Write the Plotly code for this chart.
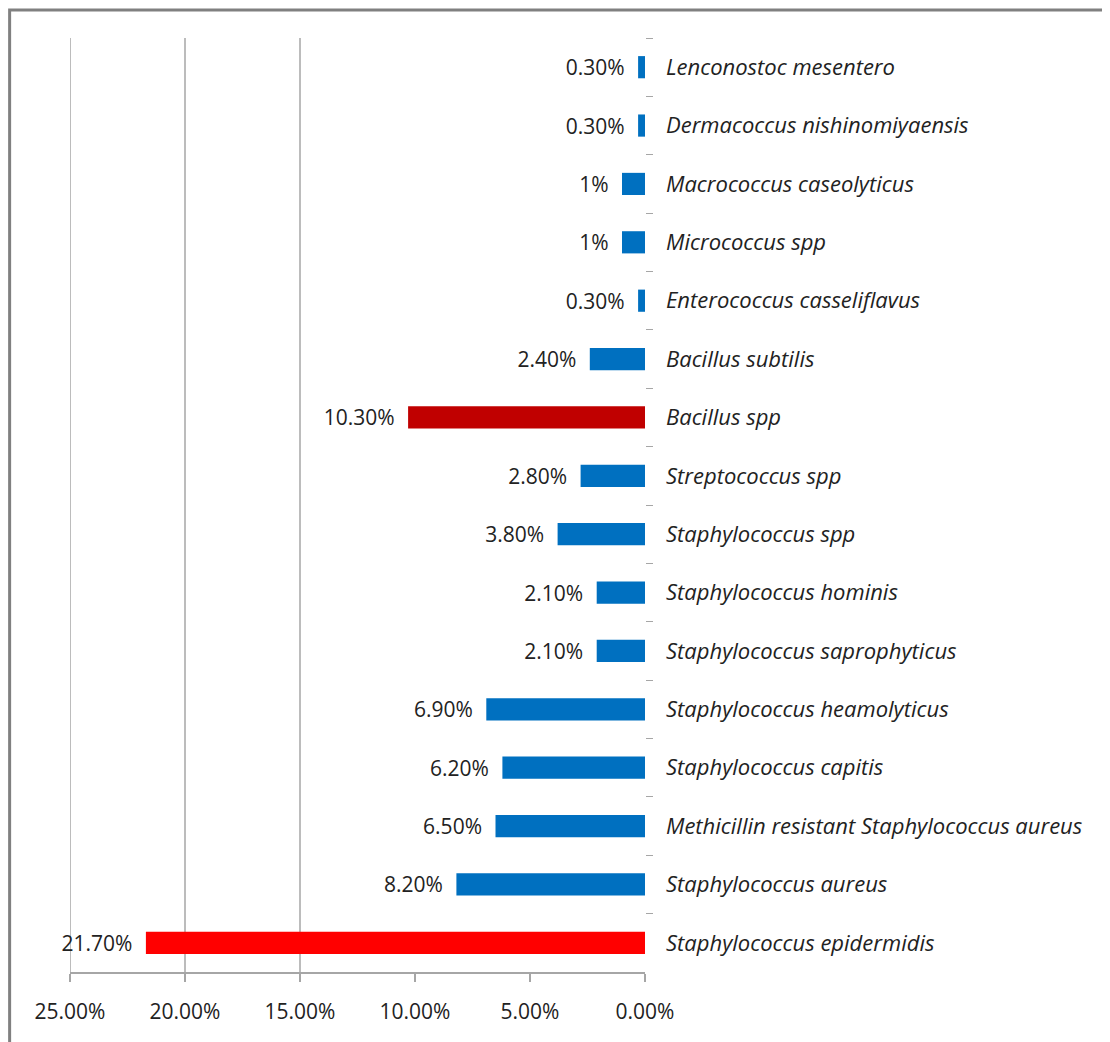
import plotly.graph_objects as go

# categories listed top to bottom, as in the original chart
organisms = [
    "Lenconostoc mesentero",
    "Dermacoccus nishinomiyaensis",
    "Macrococcus caseolyticus",
    "Micrococcus spp",
    "Enterococcus casseliflavus",
    "Bacillus subtilis",
    "Bacillus spp",
    "Streptococcus spp",
    "Staphylococcus spp",
    "Staphylococcus hominis",
    "Staphylococcus saprophyticus",
    "Staphylococcus heamolyticus",
    "Staphylococcus capitis",
    "Methicillin resistant Staphylococcus aureus",
    "Staphylococcus aureus",
    "Staphylococcus epidermidis",
]
percent = [0.3, 0.3, 1, 1, 0.3, 2.4, 10.3, 2.8, 3.8, 2.1, 2.1, 6.9, 6.2, 6.5, 8.2, 21.7]
value_labels = ["0.30%", "0.30%", "1%", "1%", "0.30%", "2.40%", "10.30%", "2.80%",
                "3.80%", "2.10%", "2.10%", "6.90%", "6.20%", "6.50%", "8.20%", "21.70%"]
x_ticks = [0, 5, 10, 15, 20, 25]
grid_at = [15, 20, 25]

highlight = {"Bacillus spp": "#C00000", "Staphylococcus epidermidis": "#FF0000"}
bar_colors = [highlight.get(o, "#0070C0") for o in organisms]

fig = go.Figure()
fig.add_trace(go.Bar(
    x=percent,
    y=organisms,
    orientation="h",
    marker=dict(color=bar_colors, line=dict(width=0)),
    width=0.38,
    # en space keeps the labels a little away from the bar ends
    text=[t + "\u2002" for t in value_labels],
    textposition="outside",
    constraintext="none",
    cliponaxis=False,
    textfont=dict(family="Open Sans", size=21, color="#222222"),
    hoverinfo="skip",
))

for g in grid_at:
    fig.add_vline(x=g, line_color="#a6a6a6", line_width=1.5, layer="below")

fig.update_xaxes(
    range=[25, 0],
    tickvals=x_ticks,
    ticktext=[f"{v:.2f}%" for v in x_ticks],
    showgrid=False,
    zeroline=False,
    showline=True,
    linecolor="#a6a6a6",
    linewidth=1.5,
    ticks="outside",
    ticklen=8,
    tickcolor="#a6a6a6",
    tickwidth=1.5,
    ticklabelstandoff=12,
    tickfont=dict(family="Open Sans", size=21, color="#222222"),
)
fig.update_yaxes(
    type="category",
    autorange="reversed",
    side="right",
    showgrid=False,
    showline=False,
    zeroline=False,
    ticks="outside",
    tickson="boundaries",
    ticklen=7,
    tickcolor="#a6a6a6",
    ticklabelstandoff=20,
    tickfont=dict(family="Open Sans", size=22, color="#222222", style="italic"),
)

# outer frame around the whole picture
fig.add_shape(type="rect", xref="paper", yref="paper",
              x0=-0.105, x1=1.8, y0=-0.2, y1=1.03,
              line=dict(color="#808080", width=3), layer="below")

fig.update_layout(
    width=1102,
    height=1034,
    margin=dict(l=62, r=465, t=30, b=70),
    paper_bgcolor="white",
    plot_bgcolor="white",
    showlegend=False,
)

fig.write_html("out.html")
